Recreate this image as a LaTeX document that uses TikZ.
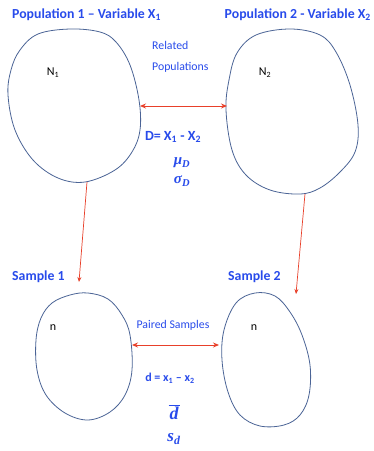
\documentclass[tikz,border=0pt]{standalone}
\usepackage{fontspec}
\setmainfont{Carlito}
\newfontfamily\mfont{Liberation Serif}
\usetikzlibrary{arrows.meta}
\definecolor{tblue}{RGB}{40,75,235}
\definecolor{tred}{RGB}{232,64,42}
\definecolor{tblob}{RGB}{75,100,150}
\begin{document}
\begin{tikzpicture}[x=1pt,y=-1pt,
  title/.style={text=tblue,font=\bfseries\fontsize{13.8}{16}\selectfont,inner sep=0pt},
  lbl/.style={text=tblue,font=\fontsize{11.8}{14}\selectfont,inner sep=0pt},
  blob/.style={draw=tblob,line width=0.8pt},
  conn/.style={draw=tred,line width=0.7pt,-{Stealth[length=5pt,width=4pt]}},
  dconn/.style={draw=tred,line width=0.9pt,{Stealth[length=6pt,width=5pt]}-{Stealth[length=6pt,width=5pt]}},
  mathl/.style={text=tblue,font=\mfont\bfseries\itshape\fontsize{15}{17}\selectfont,inner sep=0pt},
  plain/.style={font=\fontsize{12}{14}\selectfont,inner sep=0pt}]
\useasboundingbox (0,0) rectangle (374,451);
\fill[white] (0,0) rectangle (374,451);
% titles
\node[title,anchor=west] (t1) at (12,15) {Population 1 – Variable X\textsubscript{1}};
\node[title,anchor=east] (t2) at (371,15) {Population 2 - Variable X\textsubscript{2}};
\node[title,anchor=west] (s1) at (12,277) {Sample 1};
\node[title,anchor=west] (s2) at (228,277) {Sample 2};
% population blobs
\draw[blob] plot[smooth cycle,tension=0.6] coordinates {(20,50) (38,34) (70,29) (100,32) (116,42) (130,65) (139,100) (140,130) (132,152) (115,170) (85,182) (58,178) (33,160) (15,130) (8,95) (11,70)};
\draw[blob] plot[smooth cycle,tension=0.6] coordinates {(237,53) (256,35) (290,29) (320,35) (336,52) (350,85) (358,125) (355,152) (340,172) (320,188) (300,194) (270,190) (246,175) (232,150) (226,110) (229,80)};
% sample blobs
\draw[blob] plot[smooth cycle,tension=0.6] coordinates {(52,303) (70,295) (88,293) (108,299) (122,315) (130,335) (132,370) (125,395) (110,412) (88,420) (65,413) (46,395) (37,370) (36,340) (41,318)};
\draw[blob] plot[smooth cycle,tension=0.6] coordinates {(236,303) (255,293) (275,296) (290,312) (302,335) (310,365) (309,395) (300,415) (284,425) (260,426) (240,415) (228,392) (222,360) (224,330)};
% named points
\coordinate (p1b) at (87,182);
\coordinate (p2b) at (305,194);
\coordinate (s1t) at (79,282);
\coordinate (s2t) at (296,294);
\coordinate (p1r) at (140,106);
\coordinate (p2l) at (227,106);
\coordinate (s1r) at (132,345);
\coordinate (s2l) at (219,345);
% labels
\node[plain] (n1) at (53,73) {N\textsubscript{1}};
\node[plain] (n2) at (265,73) {N\textsubscript{2}};
\node[plain] (m1) at (53,328) {n};
\node[plain] (m2) at (254,328) {n};
\node[lbl,anchor=west] (rel) at (152,45) {Related};
\node[lbl,anchor=west] (pops) at (152,67) {Populations};
\node[lbl] (ps) at (173,325) {Paired Samples};
\node[text=tblue,font=\bfseries\fontsize{14}{16}\selectfont,inner sep=0pt] (D) at (173,137) {D= X\textsubscript{1} - X\textsubscript{2}};
\node[mathl] (mu) at (182,163) {μ\textsubscript{D}};
\node[mathl] (sig) at (182,181) {σ\textsubscript{D}};
\node[text=tblue,font=\bfseries\fontsize{12}{14}\selectfont,inner sep=0pt] (dd) at (170,378) {d = x\textsubscript{1} – x\textsubscript{2}};
\node[mathl,font=\mfont\bfseries\itshape\fontsize{18}{20}\selectfont] (dbar) at (174,412) {\rule[14pt]{11pt}{0.6pt}\hspace{-11pt}\makebox[11pt]{d}};
\node[mathl,font=\mfont\bfseries\itshape\fontsize{17}{19}\selectfont] (sd) at (174,439) {s\textsubscript{d}};
% connectors
\draw[conn] (p1b) -- (s1t);
\draw[conn] (p2b) -- (s2t);
\draw[dconn] (p1r) -- (p2l);
\draw[dconn] (s1r) -- (s2l);
\end{tikzpicture}
\end{document}
